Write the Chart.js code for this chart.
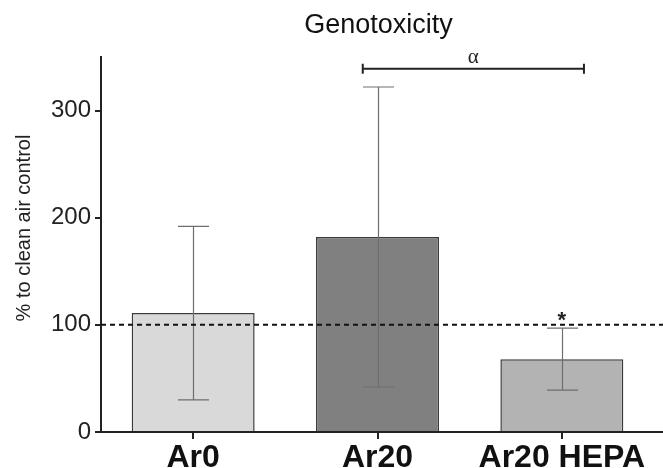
<!DOCTYPE html>
<html>
<head>
<meta charset="utf-8">
<script src="https://cdn.jsdelivr.net/npm/chart.js@4"></script>
<style>
  html, body { margin: 0; padding: 0; background: #fff; }
  canvas { display: block; }
</style>
</head>
<body>
<canvas id="chart" width="663" height="468"></canvas>
<script>
// Genotoxicity, % of clean air control (mean ± SD)
const categories = ['Ar0', 'Ar20', 'Ar20 HEPA'];
const meanValues = [111, 182, 68];
const sdValues = [81, 140, 29];
const yTicks = [0, 100, 200, 300];
const controlLevel = 100;          // dashed reference line
const bracketPair = [1, 2];        // Ar20 vs Ar20 HEPA
const bracketLevel = 339;
const bracketLabel = 'α';
const starIndex = 2;               // significant vs. control
const starLabel = '*';

const FONT = "'Liberation Sans', Arial, sans-serif";
const barColors = ['#d9d9d9', '#808080', '#b3b3b3'];

const annotations = {
  id: 'annotations',
  afterDatasetsDraw(chart) {
    const { ctx, chartArea: a, scales: { x, y } } = chart;
    const meta = chart.getDatasetMeta(0);
    ctx.save();

    // x axis line running to the canvas edge
    ctx.strokeStyle = '#222';
    ctx.lineWidth = 2;
    ctx.beginPath();
    ctx.moveTo(a.left - 1, a.bottom);
    ctx.lineTo(chart.width, a.bottom);
    ctx.stroke();

    // error bars
    ctx.strokeStyle = '#6e6e6e';
    ctx.lineWidth = 1.2;
    meta.data.forEach((bar, i) => {
      const cx = Math.round(bar.x) + 0.5;
      const hi = y.getPixelForValue(meanValues[i] + sdValues[i]);
      const lo = y.getPixelForValue(meanValues[i] - sdValues[i]);
      const cap = 15.5;
      ctx.beginPath();
      ctx.moveTo(cx, hi); ctx.lineTo(cx, lo);
      ctx.moveTo(cx - cap, hi); ctx.lineTo(cx + cap, hi);
      ctx.moveTo(cx - cap, lo); ctx.lineTo(cx + cap, lo);
      ctx.stroke();
    });

    // control reference line
    const yc = y.getPixelForValue(controlLevel);
    ctx.strokeStyle = '#111';
    ctx.lineWidth = 2;
    ctx.setLineDash([5, 4]);
    ctx.beginPath();
    ctx.moveTo(a.left, yc);
    ctx.lineTo(chart.width, yc);
    ctx.stroke();
    ctx.setLineDash([]);

    // significance bracket
    const step = x.getPixelForValue(1) - x.getPixelForValue(0);
    const bx0 = x.getPixelForValue(bracketPair[0]) - 0.08 * step;
    const bx1 = x.getPixelForValue(bracketPair[1]) + 0.12 * step;
    const by = y.getPixelForValue(bracketLevel);
    ctx.strokeStyle = '#222';
    ctx.lineWidth = 2;
    ctx.beginPath();
    ctx.moveTo(bx0, by); ctx.lineTo(bx1, by);
    ctx.moveTo(bx0, by - 5); ctx.lineTo(bx0, by + 5);
    ctx.moveTo(bx1, by - 5); ctx.lineTo(bx1, by + 5);
    ctx.stroke();
    ctx.fillStyle = '#222';
    ctx.textAlign = 'center';
    ctx.textBaseline = 'alphabetic';
    ctx.font = "21px 'Liberation Serif', 'DejaVu Serif', serif";
    ctx.fillText(bracketLabel, (bx0 + bx1) / 2, by - 6);

    // asterisk
    const sx = meta.data[starIndex].x;
    const sy = y.getPixelForValue(meanValues[starIndex] + sdValues[starIndex]);
    ctx.font = 'bold 22px ' + FONT;
    ctx.fillText(starLabel, sx, sy - 1);

    // title
    ctx.fillStyle = '#111';
    ctx.font = '27px ' + FONT;
    ctx.textBaseline = 'alphabetic';
    ctx.fillText('Genotoxicity', (a.left + a.right) / 2 + 1, 33);

    // y axis title
    ctx.save();
    ctx.translate(24, 228);
    ctx.rotate(-Math.PI / 2);
    ctx.font = '20px ' + FONT;
    ctx.fillStyle = '#222';
    ctx.textBaseline = 'middle';
    ctx.fillText('% to clean air control', 0, 0);
    ctx.restore();

    ctx.restore();
  }
};

new Chart(document.getElementById('chart'), {
  type: 'bar',
  data: {
    labels: categories,
    datasets: [{
      data: meanValues,
      backgroundColor: barColors,
      borderColor: '#3a3a3a',
      borderWidth: 1.5,
      categoryPercentage: 1,
      barPercentage: 0.667
    }]
  },
  options: {
    responsive: false,
    animation: false,
    layout: { padding: { top: 57, right: 9, left: 0, bottom: 0 } },
    plugins: {
      legend: { display: false },
      title: { display: false },
      tooltip: { enabled: false }
    },
    scales: {
      x: {
        offset: true,
        grid: { display: true, drawOnChartArea: false, drawTicks: true, tickLength: 7, offset: false, color: '#222', lineWidth: 2 },
        border: { display: false },
        ticks: { font: { family: FONT, size: 32, weight: 'bold' }, color: '#111', padding: 0 },
        afterFit(s) { s.height = 36; }
      },
      y: {
        min: 0,
        max: 350,
        afterBuildTicks(s) { s.ticks = yTicks.map(v => ({ value: v })); },
        grid: { display: true, drawOnChartArea: false, drawTicks: true, tickLength: 6, color: '#222', lineWidth: 2 },
        border: { display: true, color: '#222', width: 2 },
        ticks: { font: { family: FONT, size: 24 }, color: '#222', padding: 4 },
        afterFit(s) { s.width = 101; }
      }
    }
  },
  plugins: [annotations]
});
</script>
</body>
</html>
